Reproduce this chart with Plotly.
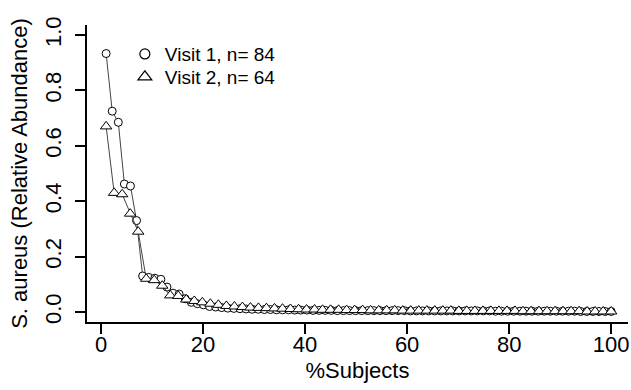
import numpy as np
import plotly.graph_objects as go

# Visit 1 relative abundance (sorted, n = 84)
visit1 = [0.933, 0.725, 0.685, 0.462, 0.455, 0.330, 0.130, 0.125, 0.122, 0.118,
          0.090, 0.068, 0.065, 0.048, 0.035, 0.030, 0.026, 0.020, 0.018, 0.016,
          0.014, 0.013, 0.012, 0.011, 0.010, 0.010, 0.009, 0.009, 0.008, 0.008,
          0.008, 0.007, 0.007, 0.007, 0.006, 0.006, 0.006, 0.006, 0.005, 0.005,
          0.005, 0.005, 0.005, 0.005, 0.005, 0.005, 0.005, 0.005, 0.005, 0.005,
          0.004, 0.004, 0.004, 0.004, 0.004, 0.004, 0.004, 0.004, 0.004, 0.004,
          0.004, 0.004, 0.004, 0.004, 0.003, 0.003, 0.003, 0.003, 0.003, 0.003,
          0.003, 0.003, 0.003, 0.003, 0.003, 0.003, 0.003, 0.003, 0.002, 0.002,
          0.002, 0.002, 0.002, 0.002]

# Visit 2 relative abundance (sorted, n = 64)
visit2 = [0.670, 0.430, 0.425, 0.355, 0.290, 0.120, 0.115, 0.095, 0.060, 0.058,
          0.045, 0.040, 0.035, 0.030, 0.026, 0.022, 0.020, 0.018, 0.016, 0.015,
          0.014, 0.013, 0.012, 0.011, 0.010, 0.009, 0.009, 0.008, 0.008, 0.008,
          0.007, 0.007, 0.007, 0.006, 0.006, 0.006, 0.006, 0.005, 0.005, 0.005,
          0.005, 0.005, 0.005, 0.005, 0.004, 0.004, 0.004, 0.004, 0.004, 0.004,
          0.004, 0.004, 0.003, 0.003, 0.003, 0.003, 0.003, 0.003, 0.003, 0.003,
          0.002, 0.002, 0.002, 0.002]

legend_labels = ["Visit 1, n= 84", "Visit 2, n= 64"]
x_ticks = [0, 20, 40, 60, 80, 100]
y_ticks = [0.0, 0.2, 0.4, 0.6, 0.8, 1.0]
y_tick_text = ["0.0", "0.2", "0.4", "0.6", "0.8", "1.0"]

x1 = np.linspace(1, 100, len(visit1))
x2 = np.linspace(1, 100, len(visit2))

FONT = "Liberation Sans, Arial, Helvetica, sans-serif"

fig = go.Figure()
fig.add_trace(go.Scatter(
    x=x1, y=visit1, mode="lines+markers", showlegend=False,
    line=dict(color="#444444", width=1),
    marker=dict(symbol="circle", size=8, color="white",
                line=dict(color="black", width=1)),
))
fig.add_trace(go.Scatter(
    x=x2, y=visit2, mode="lines+markers", showlegend=False,
    line=dict(color="#444444", width=1),
    marker=dict(symbol="triangle-up", size=10, color="white",
                line=dict(color="black", width=1)),
))
# legend entries (points only, as in the original)
fig.add_trace(go.Scatter(
    x=[None], y=[None], mode="markers", name=legend_labels[0], legend="legend",
    marker=dict(symbol="circle", size=10, color="white",
                line=dict(color="black", width=1.2)),
))
fig.add_trace(go.Scatter(
    x=[None], y=[None], mode="markers", name=legend_labels[1], legend="legend2",
    marker=dict(symbol="triangle-up", size=12, color="white",
                line=dict(color="black", width=1.2)),
))

legend_style = dict(xanchor="left", yanchor="top", bgcolor="rgba(0,0,0,0)",
                    font=dict(size=19), itemsizing="trace")

fig.update_layout(
    width=631, height=390,
    margin=dict(l=87, r=3, t=25, b=68),
    paper_bgcolor="white", plot_bgcolor="white",
    font=dict(family=FONT, color="black", size=22),
    legend=dict(x=0.070, y=0.966, **legend_style),
    legend2=dict(x=0.070, y=0.889, **legend_style),
    xaxis=dict(
        range=[-2.75, 103.3], tickvals=x_ticks,
        showgrid=False, zeroline=False, automargin=False,
        showline=True, linecolor="black", linewidth=1.5,
        ticks="outside", ticklen=10, tickwidth=1.5, tickcolor="black",
        tickfont=dict(size=22), ticklabelstandoff=-8,
        title=dict(text="%Subjects", font=dict(size=22), standoff=6),
    ),
    yaxis=dict(
        range=[-0.036, 1.036], tickvals=y_ticks, ticktext=y_tick_text,
        tickangle=-90,
        showgrid=False, zeroline=False, automargin=False,
        showline=True, linecolor="black", linewidth=1.5,
        ticks="outside", ticklen=10, tickwidth=1.5, tickcolor="black",
        tickfont=dict(size=22), ticklabelstandoff=5,
        title=dict(text="S. aureus (Relative Abundance)", font=dict(size=22),
                   standoff=8),
    ),
)

fig.write_html("out.html", config={"displayModeBar": False},
               post_script="document.body.style.margin='0';document.body.style.overflow='hidden';")
